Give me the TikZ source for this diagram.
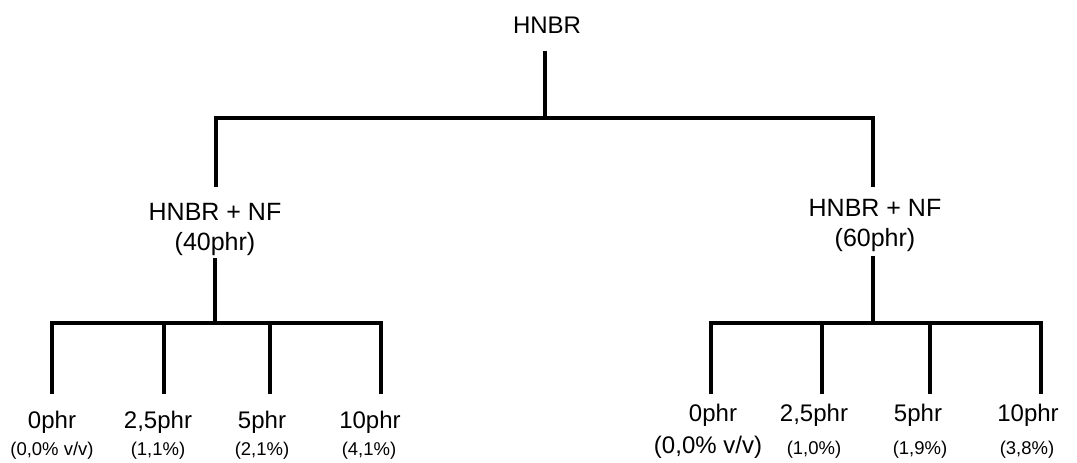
\documentclass[tikz,border=0pt]{standalone}
\usepackage{fontspec}
\setmainfont{Liberation Sans}
\begin{document}
\begin{tikzpicture}[x=1pt,y=-1pt,
  tree/.style={line width=3.2pt,line join=miter,line cap=rect},
  big/.style={inner sep=0pt,font=\fontsize{24}{28}\selectfont,anchor=base},
  mid/.style={inner sep=0pt,align=center,font=\fontsize{25}{30}\selectfont},
  small/.style={inner sep=0pt,font=\fontsize{18.5}{22}\selectfont,anchor=base}]
\useasboundingbox[fill=white] (0,0) rectangle (1077,463);
% texts
\node[big] (root) at (547,33) {HNBR};
\node[mid] (m1) at (215,229) {HNBR + NF\\(40phr)};
\node[mid] (m2) at (875,225) {HNBR + NF\\(60phr)};
\node[big] (a1) at (52,428) {0phr};
\node[big] (a2) at (158,428) {2,5phr};
\node[big] (a3) at (262,428) {5phr};
\node[big] (a4) at (370,428) {10phr};
\node[small] (b1) at (52,455) {(0,0\% v/v)};
\node[small] (b2) at (158,455) {(1,1\%)};
\node[small] (b3) at (262,455) {(2,1\%)};
\node[small] (b4) at (369,455) {(4,1\%)};
\node[big] (c1) at (713,421) {0phr};
\node[big] (c2) at (814,421) {2,5phr};
\node[big] (c3) at (918,421) {5phr};
\node[big] (c4) at (1028,421) {10phr};
\node[big] (d1) at (708,453) {(0,0\% v/v)};
\node[small] (d2) at (814,454) {(1,0\%)};
\node[small] (d3) at (920,454) {(1,9\%)};
\node[small] (d4) at (1027,454) {(3,8\%)};
% line ends
\coordinate (r0) at (545,53);
\coordinate (j0) at (545,118);
\coordinate (m1t) at (216,185);
\coordinate (m2t) at (873,185);
\coordinate (m1b) at (215,260);
\coordinate (m2b) at (873,258);
\coordinate (h1) at (215,323);
\coordinate (h2) at (873,323);
\coordinate (a1t) at (52,392);
\coordinate (a2t) at (164,392);
\coordinate (a3t) at (270,392);
\coordinate (a4t) at (381,392);
\coordinate (c1t) at (711,392);
\coordinate (c2t) at (822,392);
\coordinate (c3t) at (930,392);
\coordinate (c4t) at (1041,392);
% connectors
\draw[tree] (r0) -- (j0);
\draw[tree] (m1t) |- (j0) -| (m2t);
\draw[tree] (m1b) -- (h1);
\draw[tree] (m2b) -- (h2);
\draw[tree] (a1t) |- (h1) -| (a4t);
\draw[tree] (a2t) -- (a2t|-h1);
\draw[tree] (a3t) -- (a3t|-h1);
\draw[tree] (c1t) |- (h2) -| (c4t);
\draw[tree] (c2t) -- (c2t|-h2);
\draw[tree] (c3t) -- (c3t|-h2);
\end{tikzpicture}
\end{document}
